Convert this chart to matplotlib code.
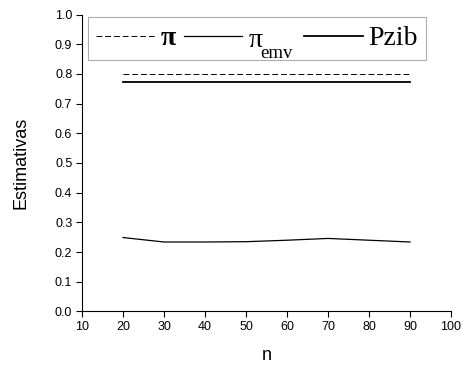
import matplotlib
matplotlib.use("Agg")
import matplotlib.pyplot as plt

# sample sizes and estimates
n = [20, 30, 40, 50, 60, 70, 80, 90]
pi_true = [0.80, 0.80, 0.80, 0.80, 0.80, 0.80, 0.80, 0.80]
pi_emv = [0.249, 0.234, 0.234, 0.235, 0.240, 0.246, 0.240, 0.234]
pzib = [0.773, 0.773, 0.773, 0.773, 0.773, 0.773, 0.773, 0.773]

xticks = [10, 20, 30, 40, 50, 60, 70, 80, 90, 100]
yticks = [0.0, 0.1, 0.2, 0.3, 0.4, 0.5, 0.6, 0.7, 0.8, 0.9, 1.0]

plt.rcParams['font.family'] = ['Liberation Sans', 'DejaVu Sans']
plt.rcParams['mathtext.fontset'] = 'custom'
plt.rcParams['mathtext.rm'] = 'Liberation Serif'
plt.rcParams['mathtext.it'] = 'Liberation Serif'
plt.rcParams['mathtext.bf'] = 'Liberation Serif:bold'

fig = plt.figure(figsize=(4.67, 3.71), dpi=100)
ax = fig.add_axes([0.1756, 0.1604, 0.7901, 0.8005])

ax.plot(n, pi_true, color='black', lw=0.7, ls=(0, (6, 3)), label=r'$\mathbf{\pi}$')
ax.plot(n, pi_emv, color='black', lw=0.9, label=r'$\pi_{\mathrm{emv}}$')
ax.plot(n, pzib, color='black', lw=1.3, label='Pzib')

ax.set_xlim(10, 100)
ax.set_ylim(0, 1.0)
ax.set_xticks(xticks)
ax.set_yticks(yticks)
ax.set_yticklabels(['%.1f' % v for v in yticks])
ax.tick_params(direction='out', length=4, width=0.8, labelsize=9, pad=3)
ax.spines['top'].set_visible(False)
ax.spines['right'].set_visible(False)
ax.set_xlabel('n', fontsize=13, labelpad=10)
ax.set_ylabel('Estimativas', fontsize=13, labelpad=18)

leg = ax.legend(loc='upper left', bbox_to_anchor=(0.016, 0.99), ncol=3,
                handlelength=2.1, handletextpad=0.2, columnspacing=0.25,
                borderpad=0.3, borderaxespad=0, fancybox=False,
                prop={'family': 'Liberation Serif', 'size': 20})
leg.get_frame().set_edgecolor('#999999')
leg.get_frame().set_linewidth(0.8)
texts = leg.get_texts()
texts[0].set_fontweight('bold')

# mathtext keeps the subscript too high: hide the label (it still sizes
# the legend) and draw pi and "emv" over it
texts[1].set_alpha(0)
ax.annotate(r'$\pi$', xy=(0, 0), xycoords=texts[1], xytext=(0, 2.74),
            textcoords='offset points', va='baseline', ha='left',
            fontsize=20, zorder=6)
ax.annotate('emv', xy=(0, 0), xycoords=texts[1], xytext=(9.0, -4.9),
            textcoords='offset points', va='baseline', ha='left',
            fontsize=13.5, family='Liberation Serif', zorder=6)

fig.canvas.draw()
fig.savefig('out.png', dpi=100)
